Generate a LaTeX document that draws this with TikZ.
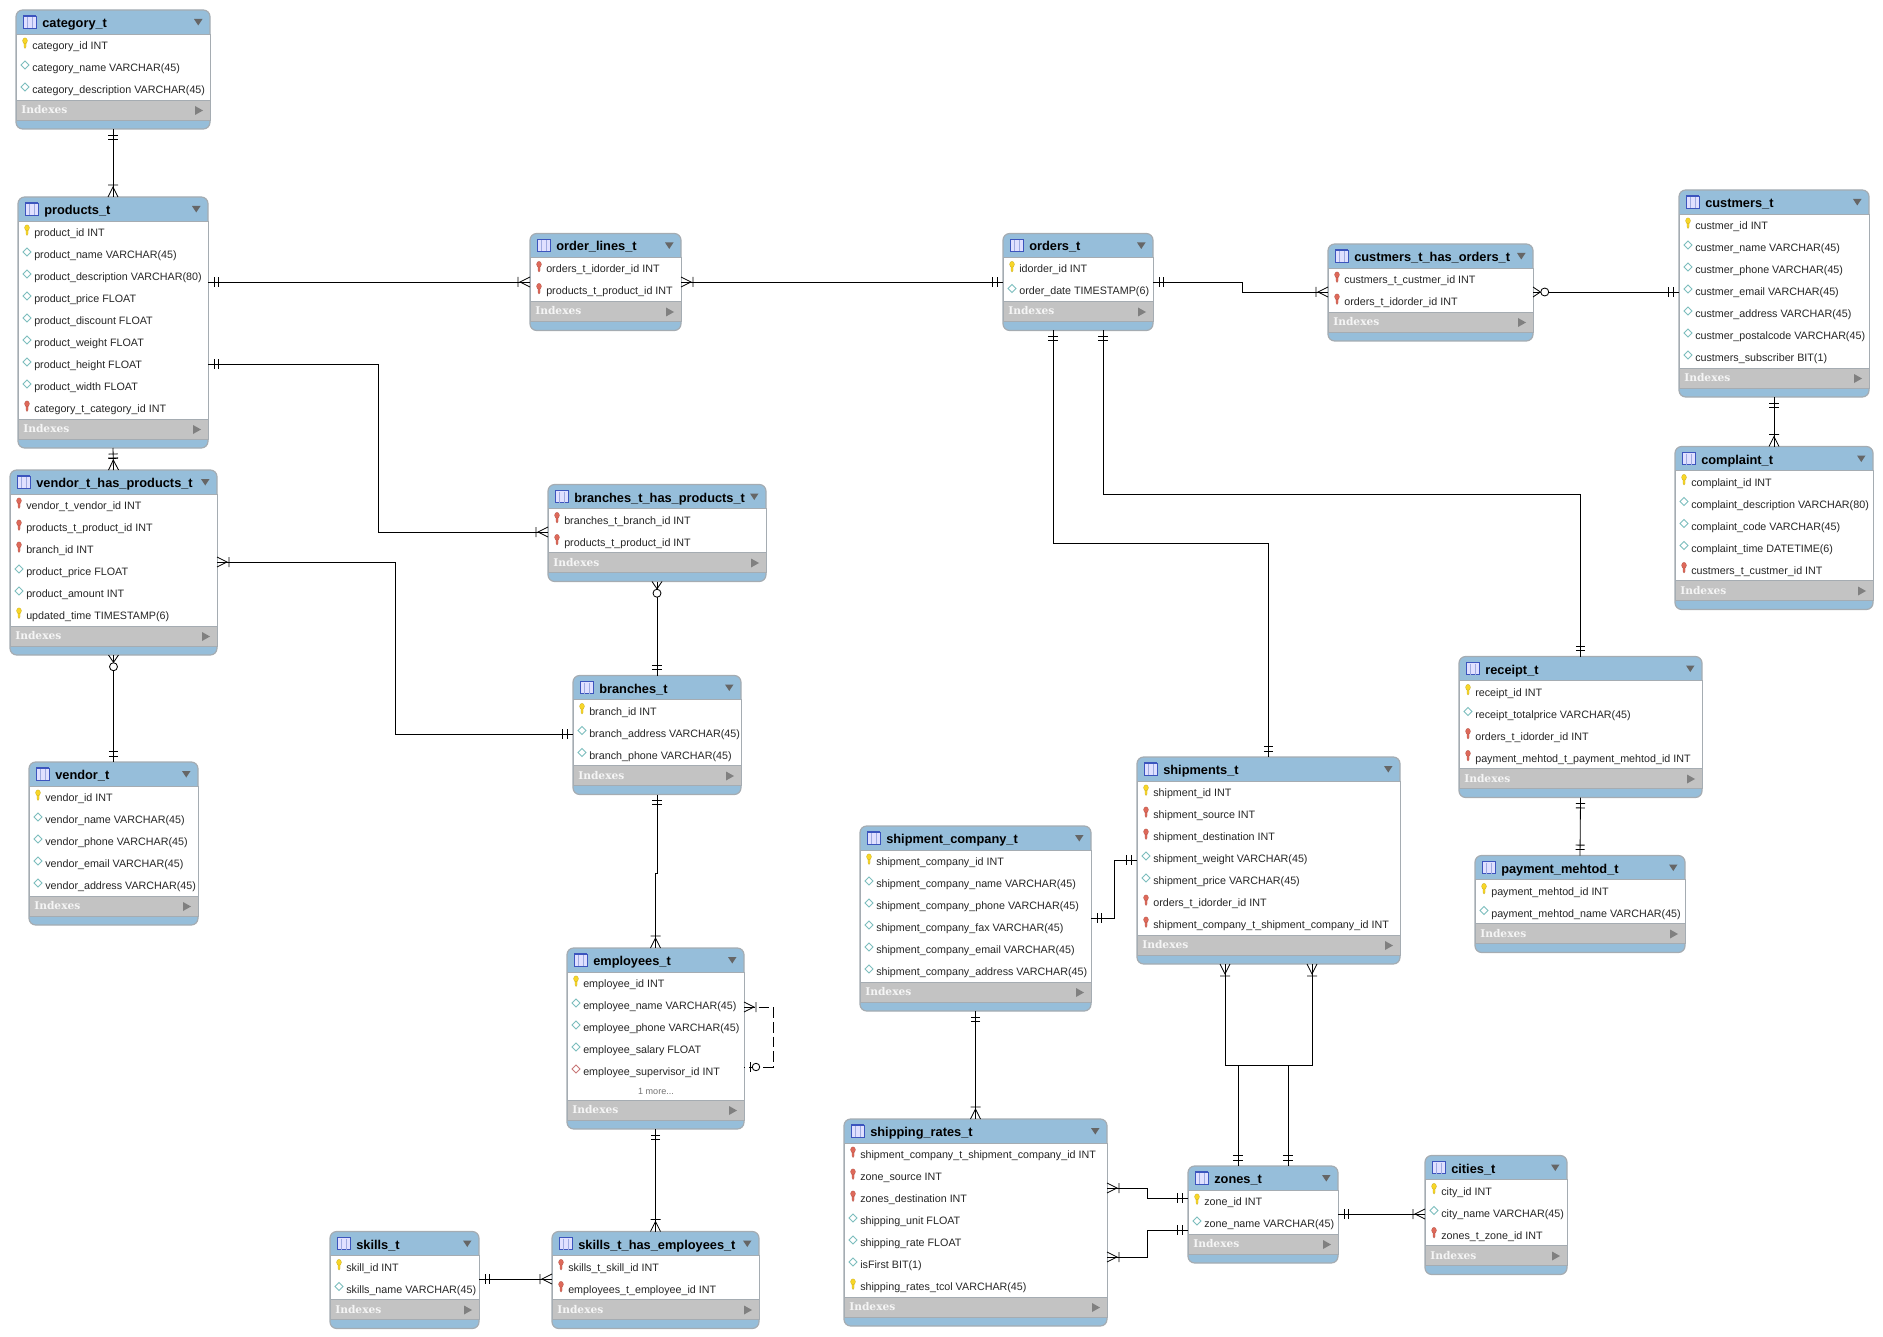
\documentclass[tikz,border=0pt]{standalone}
\usepackage{fontspec}
\setmainfont{Liberation Sans}
\newfontfamily\idxfont{DejaVu Serif}

\definecolor{headblue}{RGB}{150,190,218}
\definecolor{idxgrey}{RGB}{195,195,195}
\definecolor{edgegrey}{RGB}{165,172,178}
\definecolor{keyyellow}{RGB}{248,214,40}
\definecolor{keyred}{RGB}{222,105,90}
\definecolor{diacyan}{RGB}{125,190,190}
\definecolor{diared}{RGB}{200,120,120}
\definecolor{iconblue}{RGB}{60,85,190}

% crow's foot ends, tip sits on the table edge
\pgfdeclarearrow{name=erone,
  setup code={\pgfarrowssettipend{0pt}\pgfarrowssetlineend{0pt}\pgfarrowssetbackend{-8pt}\pgfarrowssetvisualbackend{-8pt}},
  drawing code={
    \pgfsetdash{}{0pt}
    \pgfpathmoveto{\pgfpoint{-4.5pt}{-3.4pt}}\pgfpathlineto{\pgfpoint{-4.5pt}{3.4pt}}
    \pgfpathmoveto{\pgfpoint{-7.8pt}{-3.4pt}}\pgfpathlineto{\pgfpoint{-7.8pt}{3.4pt}}
    \pgfusepathqstroke}}
\pgfdeclarearrow{name=ermany,
  setup code={\pgfarrowssettipend{0pt}\pgfarrowssetlineend{0pt}\pgfarrowssetbackend{-9pt}\pgfarrowssetvisualbackend{-9pt}},
  drawing code={
    \pgfsetdash{}{0pt}
    \pgfpathmoveto{\pgfpoint{0pt}{-3.75pt}}\pgfpathlineto{\pgfpoint{-7.5pt}{0pt}}\pgfpathlineto{\pgfpoint{0pt}{3.75pt}}
    \pgfpathmoveto{\pgfpoint{-9pt}{-3.75pt}}\pgfpathlineto{\pgfpoint{-9pt}{3.75pt}}
    \pgfusepathqstroke}}
\pgfdeclarearrow{name=erzeromany,
  setup code={\pgfarrowssettipend{0pt}\pgfarrowssetlineend{0pt}\pgfarrowssetbackend{-12pt}\pgfarrowssetvisualbackend{-12pt}},
  drawing code={
    \pgfsetdash{}{0pt}
    \pgfpathmoveto{\pgfpoint{0pt}{-3.75pt}}\pgfpathlineto{\pgfpoint{-5.5pt}{0pt}}\pgfpathlineto{\pgfpoint{0pt}{3.75pt}}
    \pgfusepathqstroke
    \pgfsetfillcolor{white}
    \pgfpathcircle{\pgfpoint{-8.8pt}{0pt}}{3pt}
    \pgfusepathqfillstroke}}
\pgfdeclarearrow{name=erzeroone,
  setup code={\pgfarrowssettipend{0pt}\pgfarrowssetlineend{0pt}\pgfarrowssetbackend{-12pt}\pgfarrowssetvisualbackend{-12pt}},
  drawing code={
    \pgfsetdash{}{0pt}
    \pgfpathmoveto{\pgfpoint{-4.5pt}{-3.4pt}}\pgfpathlineto{\pgfpoint{-4.5pt}{3.4pt}}
    \pgfusepathqstroke
    \pgfsetfillcolor{white}
    \pgfpathcircle{\pgfpoint{-9pt}{0pt}}{2.8pt}
    \pgfusepathqfillstroke}}

\tikzset{
  ertable/.style={draw=edgegrey,fill=headblue,line width=0.9pt,rounded corners=5pt,inner sep=0pt,outer sep=0pt},
  tabletitle/.style={anchor=base west,inner sep=0pt,font=\fontsize{9.6}{11}\selectfont\bfseries},
  colname/.style={anchor=base west,inner sep=0pt,font=\fontsize{8.05}{10}\selectfont,text=black!85},
  idxname/.style={anchor=base west,inner sep=0pt,font=\idxfont\fontsize{8}{9}\selectfont\bfseries,text=white!96!black},
  morename/.style={anchor=center,inner sep=0pt,font=\fontsize{6.8}{9}\selectfont,text=black!55},
  relline/.style={line width=0.62pt,black},
  pics/pk/.style={code={
    \fill[keyyellow,draw=keyyellow!80!black,line width=0.2pt] (-1,-1) -- (-1,4) -- (0,5.5) -- (1,4) -- (1,-1) -- cycle;
    \fill[keyyellow,draw=keyyellow!80!black,line width=0.2pt] (0,-2.2) ellipse (2.4 and 3);}},
  pics/fk/.style={code={
    \fill[keyred,draw=keyred!80!black,line width=0.2pt] (-1,-1) -- (-1,4) -- (0,5.5) -- (1,4) -- (1,-1) -- cycle;
    \fill[keyred,draw=keyred!80!black,line width=0.2pt] (0,-2.2) ellipse (2.4 and 3);}},
  pics/col/.style={code={\draw[diacyan,fill=white,line width=0.6pt] (-4,0) -- (0,-4) -- (4,0) -- (0,4) -- cycle;}},
  pics/nfk/.style={code={\draw[diared,fill=white,line width=0.6pt] (-4,0) -- (0,-4) -- (4,0) -- (0,4) -- cycle;}},
}

% [extra height]{name}{left}{right}{top}{rows}{kind/text list}
\newcommand{\ertablebox}[7][0]{
  \pgfmathsetmacro\rowend{#5+24+22*#6+#1}
  \pgfmathsetmacro\tblbottom{\rowend+29}
  \node[ertable,minimum width={(#4-#3)*0.75pt},minimum height={(\tblbottom-#5)*0.75pt}] (#2) at ({(#3+#4)/2},{(#5+\tblbottom)/2}) {};
  \filldraw[edgegrey,line width=0.6pt,fill=white] (#3,#5+24) rectangle (#4,\rowend);
  \filldraw[edgegrey,line width=0.6pt,fill=idxgrey] (#3,\rowend) rectangle (#4,\rowend+20);
  % title bar
  \draw[iconblue,fill=blue!12,line width=0.5pt] (#3+7,#5+6) rectangle (#3+20,#5+18);
  \draw[iconblue,line width=1pt] (#3+7,#5+6) -- (#3+20,#5+6);
  \draw[iconblue!50,line width=0.4pt] (#3+11,#5+7) -- (#3+11,#5+18) (#3+16,#5+7) -- (#3+16,#5+18);
  \node[tabletitle] (#2-title) at (#3+26,#5+17.5) {\detokenize{#2}};
  \fill[black!60] (#4-16,#5+9) -- (#4-7.5,#5+9) -- (#4-11.75,#5+15.5) -- cycle;
  % columns
  \foreach \kind/\coltext [count=\i] in {#7}{
    \pgfmathsetmacro\rowy{#5+24+22*\i-11}
    \pic[transform shape] at (#3+9,\rowy-2) {\kind};
    \node[colname] (#2-\i) at (#3+16,\rowy+4.5) {\coltext};
  }
  % index band
  \node[idxname] (#2-idx) at (#3+5,\rowend+13.5) {Indexes};
  \fill[black!50] (#4-15,\rowend+6) -- (#4-7,\rowend+10.5) -- (#4-15,\rowend+15) -- cycle;
}

\begin{document}
\begin{tikzpicture}[x=0.75pt,y=0.75pt,yscale=-1,xscale=1]
\useasboundingbox (0,0) rectangle (1883,1337);

% Tables
\ertablebox{category_t}{16}{210}{10}{3}{pk/category\_id INT,col/category\_name VARCHAR(45),col/category\_description VARCHAR(45)}
\ertablebox{products_t}{18}{208}{197}{9}{pk/product\_id INT,col/product\_name VARCHAR(45),col/product\_description VARCHAR(80),col/product\_price FLOAT,col/product\_discount FLOAT,col/product\_weight FLOAT,col/product\_height FLOAT,col/product\_width FLOAT,fk/category\_t\_category\_id INT}
\ertablebox{vendor_t_has_products_t}{10}{217}{470}{6}{fk/vendor\_t\_vendor\_id INT,fk/products\_t\_product\_id INT,fk/branch\_id INT,col/product\_price FLOAT,col/product\_amount INT,pk/updated\_time TIMESTAMP(6)}
\ertablebox{vendor_t}{29}{198}{762}{5}{pk/vendor\_id INT,col/vendor\_name VARCHAR(45),col/vendor\_phone VARCHAR(45),col/vendor\_email VARCHAR(45),col/vendor\_address VARCHAR(45)}
\ertablebox{order_lines_t}{530}{681}{233.5}{2}{fk/orders\_t\_idorder\_id INT,fk/products\_t\_product\_id INT}
\ertablebox{branches_t_has_products_t}{548}{766}{484.5}{2}{fk/branches\_t\_branch\_id INT,fk/products\_t\_product\_id INT}
\ertablebox{branches_t}{573}{741}{675.5}{3}{pk/branch\_id INT,col/branch\_address VARCHAR(45),col/branch\_phone VARCHAR(45)}
\ertablebox[18]{employees_t}{567}{744}{948}{5}{pk/employee\_id INT,col/employee\_name VARCHAR(45),col/employee\_phone VARCHAR(45),col/employee\_salary FLOAT,nfk/employee\_supervisor\_id INT}
\node[morename] (employees_t-more) at (656,1091) {1 more...};
\ertablebox{skills_t}{330}{479}{1231.5}{2}{pk/skill\_id INT,col/skills\_name VARCHAR(45)}
\ertablebox{skills_t_has_employees_t}{552}{759}{1231.5}{2}{fk/skills\_t\_skill\_id INT,fk/employees\_t\_employee\_id INT}
\ertablebox{shipment_company_t}{860}{1091}{826}{6}{pk/shipment\_company\_id INT,col/shipment\_company\_name VARCHAR(45),col/shipment\_company\_phone VARCHAR(45),col/shipment\_company\_fax VARCHAR(45),col/shipment\_company\_email VARCHAR(45),col/shipment\_company\_address VARCHAR(45)}
\ertablebox{shipping_rates_t}{844}{1107}{1119}{7}{fk/shipment\_company\_t\_shipment\_company\_id INT,fk/zone\_source INT,fk/zones\_destination INT,col/shipping\_unit FLOAT,col/shipping\_rate FLOAT,col/isFirst BIT(1),pk/shipping\_rates\_tcol VARCHAR(45)}
\ertablebox{zones_t}{1188}{1338}{1166}{2}{pk/zone\_id INT,col/zone\_name VARCHAR(45)}
\ertablebox{cities_t}{1425}{1567}{1155.5}{3}{pk/city\_id INT,col/city\_name VARCHAR(45),fk/zones\_t\_zone\_id INT}
\ertablebox{shipments_t}{1137}{1400}{757}{7}{pk/shipment\_id INT,fk/shipment\_source INT,fk/shipment\_destination INT,col/shipment\_weight VARCHAR(45),col/shipment\_price VARCHAR(45),fk/orders\_t\_idorder\_id INT,fk/shipment\_company\_t\_shipment\_company\_id INT}
\ertablebox{orders_t}{1003}{1153}{233.5}{2}{pk/idorder\_id INT,col/order\_date TIMESTAMP(6)}
\ertablebox{custmers_t_has_orders_t}{1328}{1533}{244}{2}{fk/custmers\_t\_custmer\_id INT,fk/orders\_t\_idorder\_id INT}
\ertablebox{custmers_t}{1679}{1869}{190}{7}{pk/custmer\_id INT,col/custmer\_name VARCHAR(45),col/custmer\_phone VARCHAR(45),col/custmer\_email VARCHAR(45),col/custmer\_address VARCHAR(45),col/custmer\_postalcode VARCHAR(45),col/custmers\_subscriber BIT(1)}
\ertablebox{complaint_t}{1675}{1873}{446.5}{5}{pk/complaint\_id INT,col/complaint\_description VARCHAR(80),col/complaint\_code VARCHAR(45),col/complaint\_time DATETIME(6),fk/custmers\_t\_custmer\_id INT}
\ertablebox{receipt_t}{1459}{1702}{656.5}{4}{pk/receipt\_id INT,col/receipt\_totalprice VARCHAR(45),fk/orders\_t\_idorder\_id INT,fk/payment\_mehtod\_t\_payment\_mehtod\_id INT}
\ertablebox{payment_mehtod_t}{1475}{1685}{855.5}{2}{pk/payment\_mehtod\_id INT,col/payment\_mehtod\_name VARCHAR(45)}

% Left side connectors
\draw[relline,erone-ermany] (category_t.south) -- (products_t.north);
\draw[relline,erone-ermany] (products_t.south) -- (vendor_t_has_products_t.north);
\draw[relline,erzeromany-erone] (vendor_t_has_products_t.south) -- (vendor_t.north);
\draw[relline,erone-ermany] (products_t.east |- 0,282) -- (order_lines_t.west |- 0,282);
\draw[relline,ermany-erone] (order_lines_t.east |- 0,282) -- (orders_t.west |- 0,282);
\draw[relline,erone-ermany] (products_t.east |- 0,364) -- (378,364) -- (378,532) -- (branches_t_has_products_t.west |- 0,532);
\draw[relline,ermany-erone] (vendor_t_has_products_t.east |- 0,562) -- (395,562) -- (395,734) -- (branches_t.west |- 0,734);
\draw[relline,erzeromany-erone] (branches_t_has_products_t.south) -- (branches_t.north);
\draw[relline,erone-ermany] (branches_t.south) -- (branches_t.south |- 0,873) -- (employees_t.north |- 0,873) -- (employees_t.north);
\draw[relline,dash pattern=on 8pt off 3pt,ermany-erzeroone] (employees_t.east |- 0,1007) -- (773,1007) -- (773,1067) -- (employees_t.east |- 0,1067);
\draw[relline,erone-ermany] (employees_t.south) -- (skills_t_has_employees_t.north);
\draw[relline,erone-ermany] (skills_t.east |- 0,1279) -- (skills_t_has_employees_t.west |- 0,1279);

% Right side connectors
\draw[relline,erone-ermany] (orders_t.east |- 0,282) -- (1242,282) -- (1242,292) -- (custmers_t_has_orders_t.west |- 0,292);
\draw[relline,erzeromany-erone] (custmers_t_has_orders_t.east |- 0,292) -- (custmers_t.west |- 0,292);
\draw[relline,erone-ermany] (custmers_t.south) -- (complaint_t.north);
\draw[relline,erone-erone] (orders_t.south -| 1053,0) -- (1053,543) -- (shipments_t.north |- 0,543) -- (shipments_t.north);
\draw[relline,erone-erone] (orders_t.south -| 1103,0) -- (1103,494) -- (receipt_t.north |- 0,494) -- (receipt_t.north);
\draw[relline,erone-erone] (receipt_t.south) -- (payment_mehtod_t.north);
\draw[relline,erone-erone] (shipment_company_t.east |- 0,918) -- (1114,918) -- (1114,860) -- (shipments_t.west |- 0,860);
\draw[relline,erone-ermany] (shipment_company_t.south) -- (shipping_rates_t.north);
\draw[relline,ermany-erone] (shipments_t.south -| 1225,0) -- (1225,1065) -- (1288,1065) -- (zones_t.north -| 1288,0);
\draw[relline,ermany-erone] (shipments_t.south -| 1312,0) -- (1312,1065) -- (1238,1065) -- (zones_t.north -| 1238,0);
\draw[relline,ermany-erone] (shipping_rates_t.east |- 0,1188) -- (1147,1188) -- (1147,1198) -- (zones_t.west |- 0,1198);
\draw[relline,ermany-erone] (shipping_rates_t.east |- 0,1257) -- (1147,1257) -- (1147,1230) -- (zones_t.west |- 0,1230);
\draw[relline,erone-ermany] (zones_t.east |- 0,1214) -- (cities_t.west |- 0,1214);

\end{tikzpicture}
\end{document}
